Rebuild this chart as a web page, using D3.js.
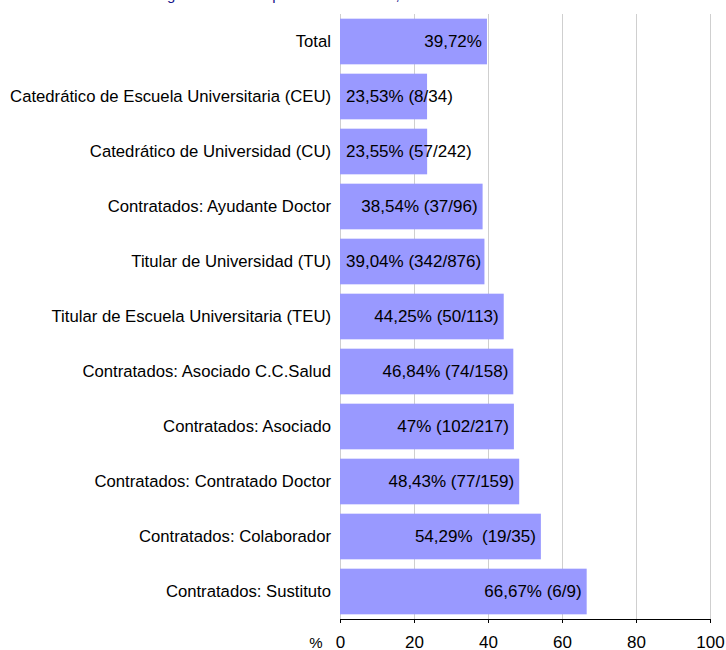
<!DOCTYPE html>
<html>
<head>
<meta charset="utf-8">
<script src="https://cdn.jsdelivr.net/npm/d3@7"></script>
<style>
  html, body { margin: 0; padding: 0; background: #fff; }
  svg { display: block; font-family: "Liberation Sans", Arial, sans-serif; }
  .lbl { white-space: pre; }
</style>
</head>
<body>
<svg id="chart" width="726" height="650"></svg>
<script>
// Categories, top to bottom
const categories = [
  "Total",
  "Catedrático de Escuela Universitaria (CEU)",
  "Catedrático de Universidad (CU)",
  "Contratados: Ayudante Doctor",
  "Titular de Universidad (TU)",
  "Titular de Escuela Universitaria (TEU)",
  "Contratados: Asociado C.C.Salud",
  "Contratados: Asociado",
  "Contratados: Contratado Doctor",
  "Contratados: Colaborador",
  "Contratados: Sustituto"
];
// Percentage of women in each category
const values = [39.72, 23.53, 23.55, 38.54, 39.04, 44.25, 46.84, 47, 48.43, 54.29, 66.67];
// Women / total counts shown after the percentage
const counts = ["", " (8/34)", " (57/242)", " (37/96)", " (342/876)", " (50/113)",
                " (74/158)", " (102/217)", " (77/159)", "  (19/35)", " (6/9)"];
const xTicks = [0, 20, 40, 60, 80, 100];
const title = "Tasa de feminización según la clase de profesorado activo, 2010";

const svg = d3.select("#chart");
const margin = { left: 340, right: 16, top: 14, bottom: 31 };
const W = 726, H = 650;

const x = d3.scaleLinear().domain([0, 100]).range([margin.left, W - margin.right]);
const y = d3.scaleBand().domain(categories)
  .range([margin.top, H - margin.bottom])
  .paddingInner(0.17).paddingOuter(0.085);

// Title (sits at the very top edge, mostly above the page)
svg.append("text")
  .attr("x", 7).attr("y", 0)
  .attr("fill", "#14148a")
  .attr("font-size", 15)
  .text(title);

// Vertical gridlines
svg.append("g").selectAll("line").data(xTicks).join("line")
  .attr("x1", d => x(d)).attr("x2", d => x(d))
  .attr("y1", margin.top).attr("y2", H - margin.bottom)
  .attr("stroke", "#cfcfcf").attr("stroke-width", 1)
  .attr("shape-rendering", "crispEdges");

// Bars
svg.append("g").selectAll("rect").data(categories).join("rect")
  .attr("x", x(0))
  .attr("y", d => y(d))
  .attr("width", (d, i) => x(values[i]) - x(0))
  .attr("height", y.bandwidth())
  .attr("fill", "#9999ff");

// Category labels
svg.append("g").selectAll("text").data(categories).join("text")
  .attr("x", x(0) - 9)
  .attr("y", d => y(d) + y.bandwidth() / 2)
  .attr("dy", "0.35em")
  .attr("text-anchor", "end")
  .attr("font-size", 16.7)
  .attr("fill", "#000")
  .text(d => d);

// Value labels
const fmt = v => String(v).replace(".", ",") + "%";
const vl = svg.append("g").selectAll("text").data(categories).join("text")
  .attr("class", "lbl")
  .attr("y", d => y(d) + y.bandwidth() / 2)
  .attr("dy", "0.35em")
  .attr("font-size", 17)
  .attr("fill", "#000")
  .text((d, i) => fmt(values[i]) + counts[i]);
vl.each(function(d, i) {
  const w = this.getComputedTextLength();
  const barW = x(values[i]) - x(0);
  const t = d3.select(this);
  if (w + 12 > barW) {
    t.attr("x", x(0) + 6).attr("text-anchor", "start");
  } else {
    t.attr("x", x(values[i]) - 5).attr("text-anchor", "end");
  }
});

// Bottom axis
const axis = svg.append("g")
  .attr("transform", `translate(0,${H - margin.bottom})`)
  .call(d3.axisBottom(x).tickValues(xTicks).tickSize(4).tickPadding(13));
axis.select(".domain").attr("stroke", "#000").attr("d", `M${x(0)},0.5H${x(100)}`);
axis.selectAll(".tick line").attr("stroke", "#000");
axis.selectAll(".tick text")
  .attr("font-size", 17)
  .attr("font-family", "Liberation Sans, Arial, sans-serif")
  .attr("fill", "#000");

// Axis unit
svg.append("text")
  .attr("x", 316).attr("y", H - margin.bottom + 18)
  .attr("dy", "0.71em")
  .attr("text-anchor", "middle")
  .attr("font-size", 15)
  .attr("fill", "#000")
  .text("%");
</script>
</body>
</html>
